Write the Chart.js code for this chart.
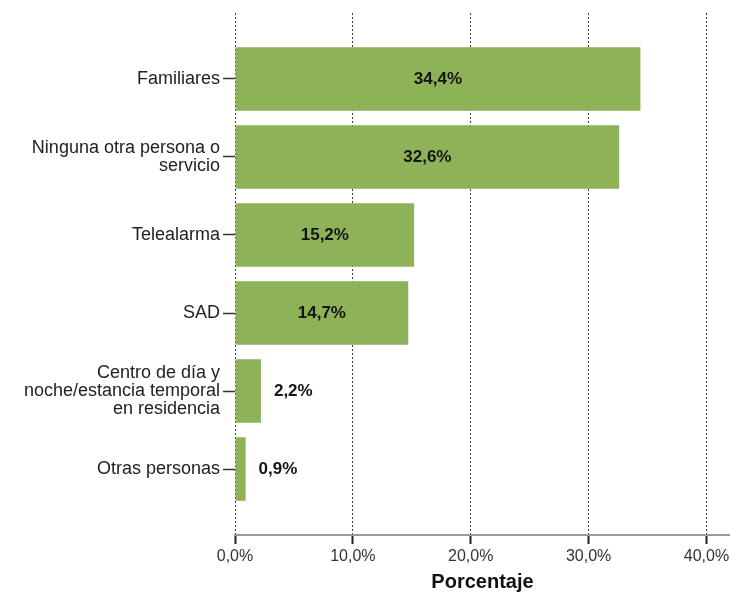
<!DOCTYPE html>
<html>
<head>
<meta charset="utf-8">
<script src="https://cdn.jsdelivr.net/npm/chart.js@4.4.1/dist/chart.umd.min.js"></script>
<style>
  html, body { margin: 0; padding: 0; background: #ffffff; }
  #wrap { width: 730px; height: 596px; }
</style>
</head>
<body>
<div id="wrap"><canvas id="c" width="730" height="596"></canvas></div>
<script>
const categories = [
  "Familiares",
  ["Ninguna otra persona o", "servicio"],
  "Telealarma",
  "SAD",
  ["Centro de día y", "noche/estancia temporal", "en residencia"],
  "Otras personas"
];
const percentages = [34.4, 32.6, 15.2, 14.7, 2.2, 0.9];
const xTickValues = [0, 10, 20, 30, 40];
const xAxisTitle = "Porcentaje";

function fmt(v) { return v.toFixed(1).replace('.', ',') + '%'; }

const valueLabels = {
  id: 'valueLabels',
  afterDatasetsDraw(chart) {
    const ctx = chart.ctx;
    const meta = chart.getDatasetMeta(0);
    const vals = chart.data.datasets[0].data;
    ctx.save();
    ctx.font = 'bold 17px "Liberation Sans", Arial, sans-serif';
    ctx.fillStyle = '#141414';
    ctx.textBaseline = 'middle';
    meta.data.forEach((bar, i) => {
      const v = vals[i];
      const txt = fmt(v);
      if (v >= 5) {
        ctx.textAlign = 'center';
        ctx.fillText(txt, (bar.x + bar.base) / 2, bar.y);
      } else {
        ctx.textAlign = 'left';
        ctx.fillText(txt, bar.x + 13, bar.y);
      }
    });
    ctx.restore();
  }
};

const catPad = 0.346;

new Chart(document.getElementById('c'), {
  type: 'bar',
  data: {
    labels: categories,
    datasets: [{
      data: percentages,
      backgroundColor: '#8db257',
      borderWidth: 0,
      categoryPercentage: 1.0,
      barPercentage: 0.815
    }]
  },
  options: {
    indexAxis: 'y',
    responsive: false,
    animation: false,
    layout: { padding: { top: 13, right: 0, bottom: 0, left: 0 } },
    plugins: { legend: { display: false }, tooltip: { enabled: false }, title: { display: false } },
    scales: {
      x: {
        type: 'linear',
        min: 0,
        max: 42,
        afterBuildTicks(scale) {
          scale.ticks = xTickValues.map(v => ({ value: v }));
        },
        afterFit(scale) { scale.height = 596 - 535; },
        ticks: {
          callback: (v) => fmt(v),
          color: '#333333',
          font: { family: '"Liberation Sans", Arial, sans-serif', size: 16, lineHeight: 1.6 },
          padding: 0,
          autoSkip: false,
          maxRotation: 0
        },
        grid: {
          color: '#3a3a3a',
          lineWidth: 1,
          tickColor: '#222222',
          tickLength: 9,
          tickWidth: 2
        },
        border: { display: true, color: '#9a9a9a', width: 2, dash: [2, 2] },
        title: {
          display: true,
          text: xAxisTitle,
          color: '#111111',
          font: { family: '"Liberation Sans", Arial, sans-serif', size: 20, weight: 'bold' },
          padding: { top: 0, bottom: 2 }
        }
      },
      y: {
        type: 'category',
        afterBuildTicks(scale) {
          scale._startValue -= catPad;
          scale._valueRange += 2 * catPad;
        },
        afterFit(scale) { scale.width = 235; },
        ticks: {
          color: '#222222',
          font: { family: '"Liberation Sans", Arial, sans-serif', size: 18, lineHeight: '18px' },
          padding: 3,
          autoSkip: false
        },
        grid: {
          offset: false,
          drawOnChartArea: false,
          drawTicks: true,
          tickLength: 12,
          tickColor: '#333333',
          tickWidth: 1.5
        },
        border: { display: false }
      }
    }
  },
  plugins: [valueLabels]
});
</script>
</body>
</html>
